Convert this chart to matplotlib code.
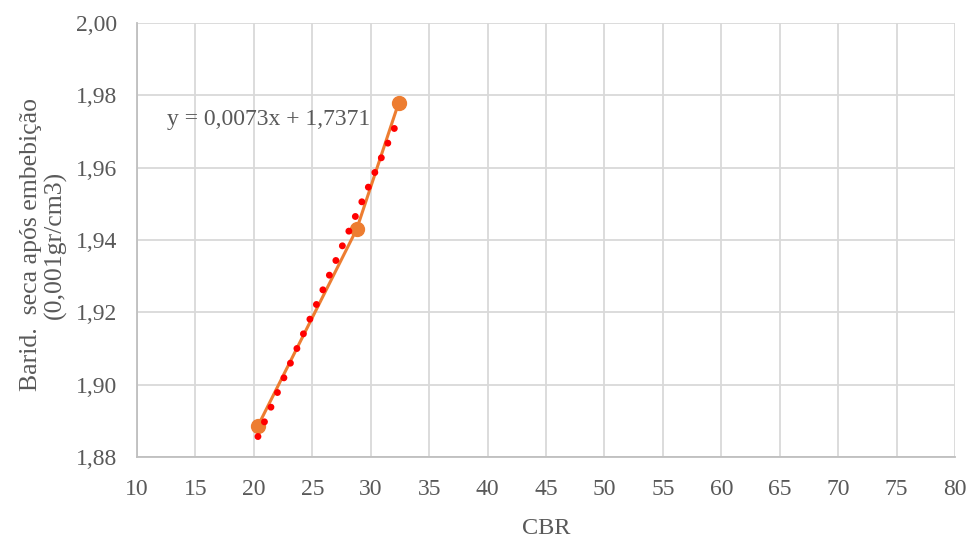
import matplotlib
matplotlib.use("Agg")
import matplotlib.pyplot as plt
import numpy as np

# dados
cbr = [20.35, 28.8, 32.4]
barid = [1.8886, 1.943, 1.978]
slope, intercept = 0.0073, 1.7371
x_ticks = list(range(10, 81, 5))
y_ticks = [1.88, 1.90, 1.92, 1.94, 1.96, 1.98, 2.00]

plt.rcParams["font.family"] = ["Liberation Serif", "DejaVu Serif"]
orange = "#ED7D31"
text_gray = "#595959"

fig = plt.figure(figsize=(9.73, 5.4), dpi=100)
ax = fig.add_axes([0.1408, 0.1537, 0.8407, 0.8037])

ax.plot(cbr, barid, color=orange, linewidth=2.2, marker="o", markersize=10, zorder=3)

# linha de tendência (pontilhada)
xt = np.array([min(cbr), max(cbr)])
ax.plot(xt, slope * xt + intercept, color="#FF0000", linewidth=5,
        linestyle=(0, (0.01, 2.3)), dash_capstyle="round", zorder=4)

ax.text(12.6, 1.9732, "y = 0,0073x + 1,7371", fontsize=17, color=text_gray,
        va="center", ha="left")

ax.set_xlim(10, 80)
ax.set_ylim(1.88, 2.00)
ax.set_xticks(x_ticks)
ax.set_yticks(y_ticks)
ax.set_yticklabels([f"{v:.2f}".replace(".", ",") for v in y_ticks])
ax.tick_params(length=0, labelsize=17, colors=text_gray)
ax.tick_params(axis="x", pad=16)
ax.tick_params(axis="y", pad=14)
ax.grid(True, color="#D9D9D9", linewidth=1.3)
for s in ax.spines.values():
    s.set_visible(False)
for side in ["left", "bottom"]:
    ax.spines[side].set_visible(True)
    ax.spines[side].set_color("#BFBFBF")
    ax.spines[side].set_linewidth(1.3)
ax.set_axisbelow(True)

ax.set_xlabel("CBR", fontsize=17.5, color=text_gray, labelpad=13)
ax.set_ylabel("Barid.  seca após embebição\n(0,001gr/cm3)", fontsize=18.5,
              color=text_gray, linespacing=1.1)
ax.yaxis.set_label_coords(-0.0856, 0.489)

fig.savefig("out.png", dpi=100)
